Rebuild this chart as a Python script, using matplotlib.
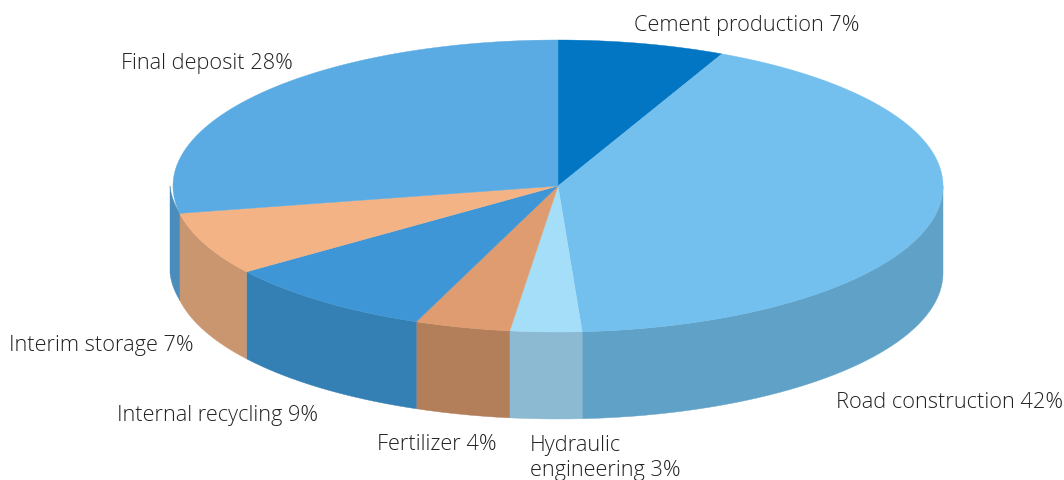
import matplotlib
matplotlib.use("Agg")
import matplotlib.pyplot as plt
from matplotlib.patches import Polygon
import numpy as np

labels = ["Cement production 7%", "Road construction 42%", "Hydraulic\nengineering 3%",
          "Fertilizer 4%", "Internal recycling 9%", "Interim storage 7%", "Final deposit 28%"]
shares = [7, 42, 3, 4, 9, 7, 28]
top_colors = ["#0276c2", "#73bfee", "#a5def9", "#de9c70", "#3e96d6", "#f4b384", "#5aabe3"]
side_colors = ["#025e9b", "#60a2c7", "#8bbad2", "#b37f5a", "#347fb3", "#c9966f", "#4a8dbd"]
label_pos = [(634, 26), (836, 402), (530, 458), (377, 445), (117, 415), (9, 345), (121, 64)]

# pie geometry in pixels
cx, cy = 558, 186
rx, ry = 385, 146
depth = 87
side_bulge = 3  # back-left side sticks out past the top face

fig = plt.figure(figsize=(10.64, 4.8), dpi=100)
ax = fig.add_axes([0, 0, 1, 1])
ax.set_xlim(0, 1064)
ax.set_ylim(480, 0)
ax.axis("off")


def rim(t, extra=0):
    return cx + (rx + extra) * np.sin(t), cy - ry * np.cos(t)


edges = np.radians(np.cumsum([0] + shares) * 3.6)

# sides first, only the front half shows
for i in range(len(shares)):
    a = max(edges[i], np.pi / 2)
    b = min(edges[i + 1], 3 * np.pi / 2)
    if a >= b:
        continue
    t = np.linspace(a, b, 120)
    # last slice widens towards the back so it joins its neighbour without a gap
    extra = np.linspace(0, side_bulge, t.size) if i == len(shares) - 1 else 0
    x, y = rim(t, extra)
    pts = np.r_[np.c_[x, y], np.c_[x, y + depth][::-1]]
    ax.add_patch(Polygon(pts, closed=True, fc=side_colors[i], ec=side_colors[i], lw=0.3))

# top face
for i in range(len(shares)):
    t = np.linspace(edges[i], edges[i + 1], 200)
    x, y = rim(t)
    pts = np.r_[[[cx, cy]], np.c_[x, y]]
    ax.add_patch(Polygon(pts, closed=True, fc=top_colors[i], ec=top_colors[i], lw=0.3))

for text, (lx, ly) in zip(labels, label_pos):
    ax.text(lx, ly, text, fontsize=15.7, family="Open Sans", weight="light", color="#222222",
            ha="left", va="center", linespacing=1.3)

fig.savefig("out.png", dpi=100)
